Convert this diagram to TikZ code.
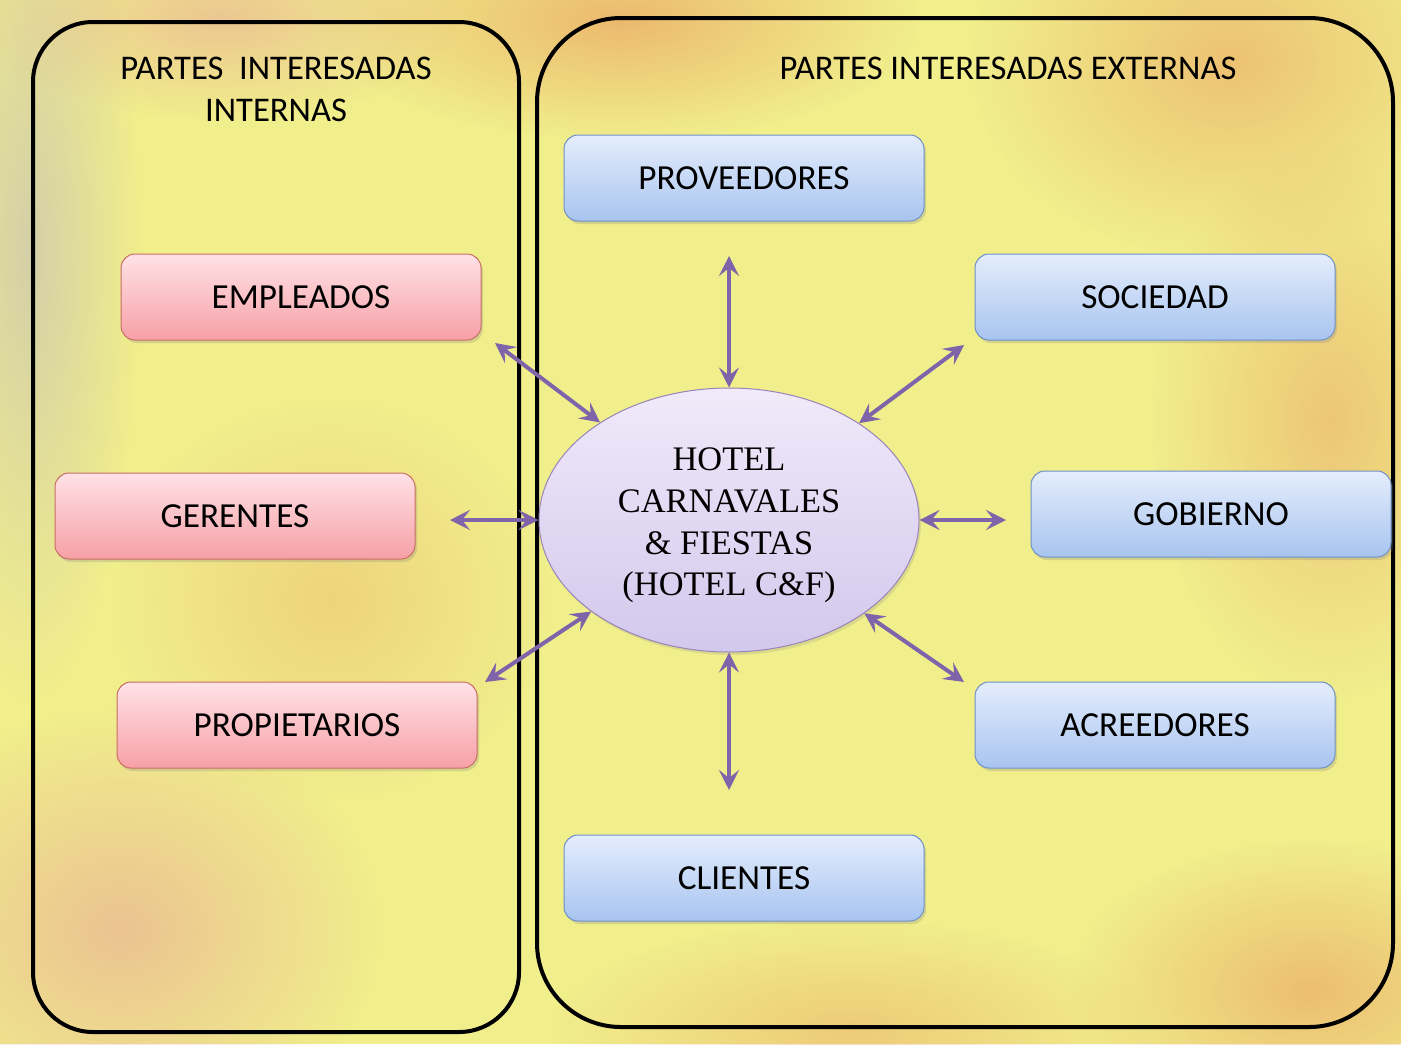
\documentclass[tikz,border=0pt]{standalone}
\usepackage{fontspec}
\setmainfont{Carlito}
\newfontfamily\seriffont{Liberation Serif}
\usetikzlibrary{shapes.geometric,arrows.meta,shadows,fadings}
\tikzfading[name=softcircle, inner color=transparent!0, outer color=transparent!100]
\definecolor{bgyellow}{RGB}{241,238,140}
\definecolor{arrowpurple}{RGB}{128,100,170}
\definecolor{pinktop}{RGB}{255,226,230}
\definecolor{pinkbot}{RGB}{246,160,166}
\definecolor{pinkline}{RGB}{200,110,100}
\definecolor{bluetop}{RGB}{228,237,252}
\definecolor{bluebot}{RGB}{168,196,240}
\definecolor{blueline}{RGB}{110,145,200}
\definecolor{lavtop}{RGB}{240,234,250}
\definecolor{lavbot}{RGB}{210,200,236}
\definecolor{blobor}{RGB}{232,150,90}
\definecolor{blobpk}{RGB}{230,160,150}
\definecolor{blobgr}{RGB}{205,200,175}
\tikzset{
  frame/.style={draw=black, line width=2pt},
  intbox/.style={rectangle, rounded corners=7pt, draw=pinkline, line width=0.5pt,
    top color=pinktop, bottom color=pinkbot, minimum width=180pt, minimum height=43pt,
    font=\fontsize{17.6}{20}\selectfont, drop shadow={shadow xshift=1pt, shadow yshift=-1.5pt, opacity=0.25}},
  extbox/.style={rectangle, rounded corners=7pt, draw=blueline, line width=0.5pt,
    top color=bluetop, bottom color=bluebot, minimum width=180pt, minimum height=43pt,
    font=\fontsize{17.6}{20}\selectfont, drop shadow={shadow xshift=1pt, shadow yshift=-1.5pt, opacity=0.25}},
  title/.style={font=\fontsize{17.3}{21}\selectfont, align=center},
  arr/.style={draw=arrowpurple, line width=2pt, {Stealth[length=10pt,width=10pt,inset=4pt]}-{Stealth[length=10pt,width=10pt,inset=4pt]}},
  blob/.style={path fading=softcircle}
}
\begin{document}
\begin{tikzpicture}[x=0.5pt,y=-0.5pt]
\useasboundingbox (0,0) rectangle (1401,1044);
% background
\fill[bgyellow] (0,0) rectangle (1401,1044);
\fill[blobgr, opacity=0.8, blob] (30,250) ellipse (110 and 450);
\fill[blobor, opacity=0.6, blob] (620,20) ellipse (300 and 120);
\fill[blobpk, opacity=0.5, blob] (220,20) ellipse (240 and 100);
\fill[blobor, opacity=0.5, blob] (1230,60) ellipse (260 and 200);
\fill[blobor, opacity=0.45, blob] (1330,420) ellipse (180 and 280);
\fill[blobpk, opacity=0.55, blob] (120,930) ellipse (260 and 220);
\fill[blobor, opacity=0.55, blob] (1310,990) ellipse (240 and 150);
\fill[blobor, opacity=0.4, blob] (850,1030) ellipse (300 and 110);
\fill[blobor, opacity=0.3, blob] (330,600) ellipse (220 and 200);
% frames
\draw[frame, rounded corners=30pt] (33,22) rectangle (519,1032);
\draw[frame, rounded corners=42pt] (537,18) rectangle (1393,1027);
% titles
\node[title] (tint) at (276,89) {PARTES~~INTERESADAS\\INTERNAS};
\node[title] (text) at (1008,68) {PARTES INTERESADAS EXTERNAS};
% boxes
\node[intbox] (emp) at (301,297) {EMPLEADOS};
\node[intbox] (ger) at (235,516) {GERENTES};
\node[intbox] (prop) at (297,725) {PROPIETARIOS};
\node[extbox] (prov) at (744,178) {PROVEEDORES};
\node[extbox] (soc) at (1155,297) {SOCIEDAD};
\node[extbox] (gob) at (1211,514) {GOBIERNO};
\node[extbox] (acr) at (1155,725) {ACREEDORES};
\node[extbox] (cli) at (744,878) {CLIENTES};
% center
\node[ellipse, draw=arrowpurple!80, line width=0.5pt, top color=lavtop, bottom color=lavbot,
  minimum width=190pt, minimum height=132pt, inner sep=0pt,
  drop shadow={shadow xshift=1pt, shadow yshift=-1.5pt, opacity=0.2},
  align=center, font=\seriffont\fontsize{17.2}{20.8}\selectfont] (hotel) at (729,520)
  {\rule{0pt}{17pt}HOTEL\\CARNAVALES\\\& FIESTAS\\(HOTEL C\&F)};
% arrow end coordinates
\coordinate (aprov) at (729,256);
\coordinate (asoc) at (964,345);
\coordinate (agob) at (1006,520);
\coordinate (aacr) at (964,682);
\coordinate (acli) at (729,790);
\coordinate (aprop) at (485,682);
\coordinate (ager) at (450,520);
\coordinate (aemp) at (495,343);
\draw[arr] (aprov) -- (hotel);
\draw[arr] (asoc) -- (hotel);
\draw[arr] (agob) -- (hotel);
\draw[arr] (aacr) -- (hotel);
\draw[arr] (acli) -- (hotel);
\draw[arr] (aprop) -- (hotel);
\draw[arr] (ager) -- (hotel);
\draw[arr] (aemp) -- (hotel);
\end{tikzpicture}
\end{document}
